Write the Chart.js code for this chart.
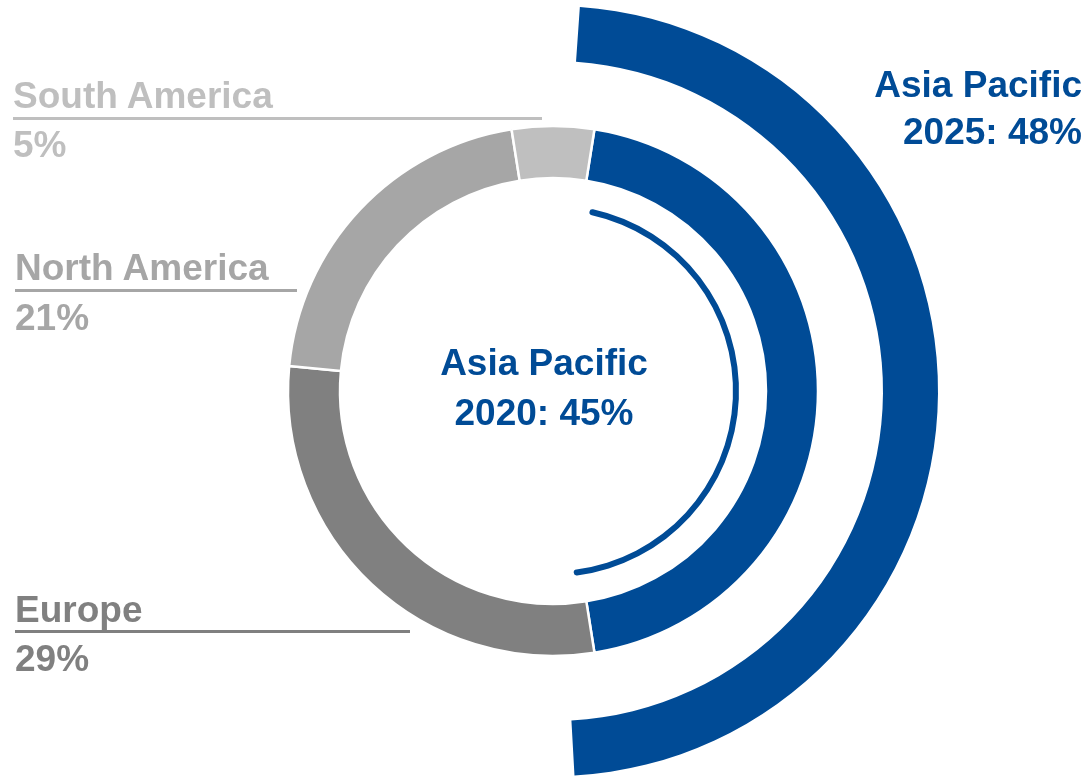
<!DOCTYPE html>
<html>
<head>
<meta charset="utf-8">
<script src="https://cdn.jsdelivr.net/npm/chart.js@4/dist/chart.umd.min.js"></script>
<style>
  html, body { margin: 0; padding: 0; background: #fff; }
  #wrap { position: relative; width: 1092px; height: 777px; overflow: hidden; }
  #chart { position: absolute; left: 0; top: 0; }
  .lbl { position: absolute; font-family: "Liberation Sans", Arial, sans-serif; font-weight: bold; font-size: 37px; line-height: 37px; white-space: nowrap; }
  .rule { position: absolute; height: 3px; }
</style>
</head>
<body>
<div id="wrap">
  <canvas id="chart" width="1092" height="777"></canvas>
</div>
<script>
// values
const regions = ['Asia Pacific', 'Europe', 'North America', 'South America'];
const share2020 = [45, 29, 21, 5];
const asiaPacific2025 = 48;
const regionColors = ['#004B96', '#808080', '#A6A6A6', '#BFBFBF'];

// ring thicknesses, outer to inner (px)
const ringWeights = [55, 65, 52, 27, 6];

function spacer(w) {
    return { data: [1], backgroundColor: ['rgba(0,0,0,0)'], borderWidth: 0, weight: w };
}

const datasets = [
    {
        label: 'Asia Pacific 2025',
        data: [asiaPacific2025, 100 - asiaPacific2025],
        backgroundColor: [regionColors[0], 'rgba(0,0,0,0)'],
        borderWidth: 0,
        rotation: 4,
        weight: ringWeights[0]
    },
    spacer(ringWeights[1]),
    {
        label: '2020',
        data: share2020,
        backgroundColor: regionColors,
        borderColor: '#ffffff',
        borderWidth: 2.5,
        rotation: 9,
        weight: ringWeights[2]
    },
    spacer(ringWeights[3]),
    {
        label: 'Asia Pacific 2020',
        data: [share2020[0], 100 - share2020[0]],
        backgroundColor: [regionColors[0], 'rgba(0,0,0,0)'],
        borderWidth: 0,
        borderRadius: 3,
        rotation: 11.5,
        weight: ringWeights[4]
    }
];

new Chart(document.getElementById('chart').getContext('2d'), {
    type: 'doughnut',
    data: { labels: regions, datasets: datasets },
    options: {
        responsive: false,
        animation: false,
        devicePixelRatio: 1,
        cutout: 180,
        layout: { padding: { top: 6, bottom: 1, left: 14, right: 0 } },
        events: [],
        plugins: {
            legend: { display: false },
            tooltip: { enabled: false }
        }
    }
});

// text labels
const wrap = document.getElementById('wrap');
function addText(txt, css) {
    const d = document.createElement('div');
    d.className = 'lbl';
    d.textContent = txt;
    Object.assign(d.style, css);
    wrap.appendChild(d);
}
function addRule(css) {
    const d = document.createElement('div');
    d.className = 'rule';
    Object.assign(d.style, css);
    wrap.appendChild(d);
}

// South America
addText(regions[3], { left: '13px', top: '77px', color: regionColors[3] });
addRule({ left: '13px', top: '117px', width: '529px', background: regionColors[3] });
addText(share2020[3] + '%', { left: '13px', top: '126px', color: regionColors[3] });

// North America
addText(regions[2], { left: '15px', top: '249px', color: regionColors[2] });
addRule({ left: '15px', top: '289px', width: '282px', background: regionColors[2] });
addText(share2020[2] + '%', { left: '15px', top: '299px', color: regionColors[2] });

// Europe
addText(regions[1], { left: '15px', top: '591px', color: regionColors[1] });
addRule({ left: '15px', top: '630px', width: '395px', background: regionColors[1] });
addText(share2020[1] + '%', { left: '15px', top: '640px', color: regionColors[1] });

// centre
addText(regions[0], { left: '424px', width: '240px', textAlign: 'center', top: '344px', color: regionColors[0] });
addText('2020: ' + share2020[0] + '%', { left: '424px', width: '240px', textAlign: 'center', top: '394px', color: regionColors[0] });

// outer arc label
addText(regions[0], { right: '10px', textAlign: 'right', top: '66px', color: regionColors[0] });
addText('2025: ' + asiaPacific2025 + '%', { right: '10px', textAlign: 'right', top: '113px', color: regionColors[0] });
</script>
</body>
</html>
